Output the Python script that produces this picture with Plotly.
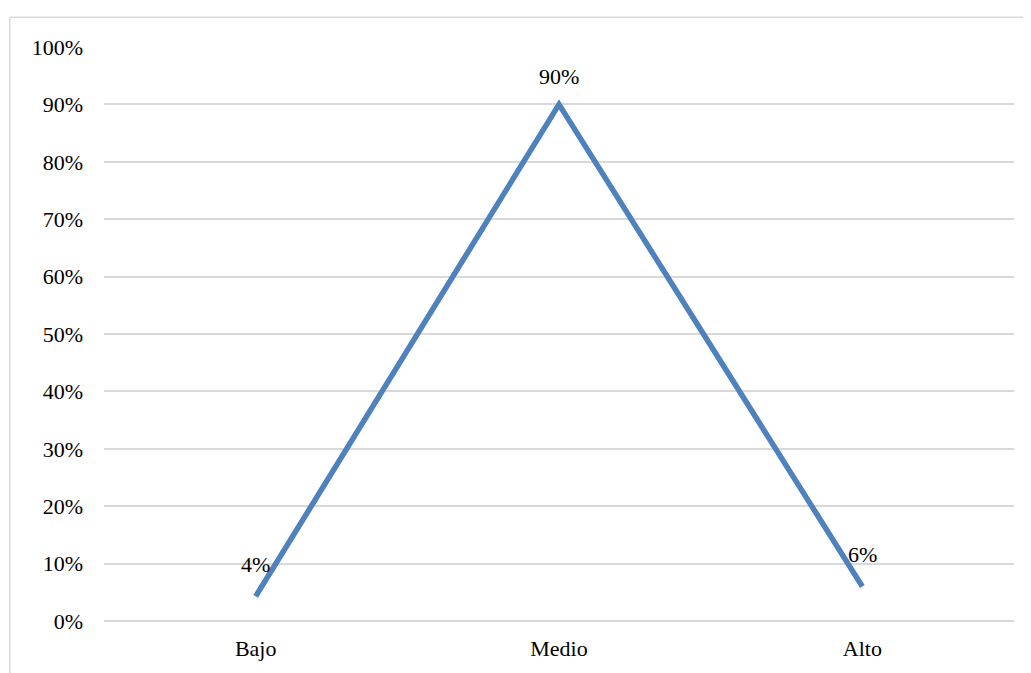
import plotly.graph_objects as go

categories = ["Bajo", "Medio", "Alto"]
values = [0.043, 0.90, 0.06]
labels = ["4%", "90%", "6%"]
tick_vals = [i / 10 for i in range(11)]
tick_text = [f"{i*10}%" for i in range(11)]

font_family = "Liberation Serif, Times New Roman, serif"

fig = go.Figure()
fig.add_trace(go.Scatter(
    x=categories, y=values, mode="lines",
    line=dict(color="#4f81bd", width=5.5),
    hoverinfo="skip", showlegend=False,
))

for c, v, t, ys in zip(categories, values, labels, [32, 28, 32]):
    fig.add_annotation(x=c, y=v, text=t, showarrow=False, yshift=ys,
                       font=dict(family=font_family, size=22, color="#000000"))

grid = "#d9d9d9"
fig.update_layout(
    width=1023, height=665,
    margin=dict(l=96, r=17, t=39, b=45),
    paper_bgcolor="white", plot_bgcolor="white",
    font=dict(family=font_family, size=22, color="#000000"),
    xaxis=dict(range=[-0.5, 2.5], showgrid=False, showline=False, zeroline=False,
               ticks="", ticklabelstandoff=12, tickfont=dict(size=22)),
    yaxis=dict(range=[0, 1], tickvals=tick_vals, ticktext=tick_text,
               showgrid=True, gridcolor=grid, gridwidth=1.5,
               zeroline=True, zerolinecolor=grid, zerolinewidth=1.5,
               showline=False, ticks="", ticklabelstandoff=20,
               tickfont=dict(size=22)),
    shapes=[
        dict(type="line", xref="paper", yref="paper", x0=-0.1036, x1=1.03,
             y0=1.0519, y1=1.0519, line=dict(color=grid, width=1.5)),
        dict(type="line", xref="paper", yref="paper", x0=-0.1036, x1=-0.1036,
             y0=1.0519, y1=-0.1, line=dict(color=grid, width=1.5)),
    ],
)

fig.write_html("out.html")
